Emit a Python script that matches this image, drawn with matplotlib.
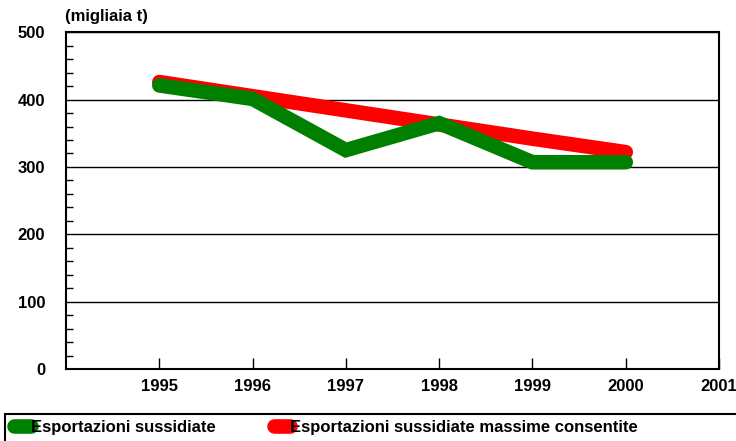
import matplotlib.pyplot as plt
from matplotlib.patches import Rectangle
from matplotlib.ticker import MultipleLocator

plt.rcParams['font.family'] = ['Liberation Sans', 'DejaVu Sans']
plt.rcParams['font.weight'] = 'bold'
plt.rcParams['font.size'] = 12

anni = [1995, 1996, 1997, 1998, 1999, 2000]
tick_anni = [1995, 1996, 1997, 1998, 1999, 2000, 2001]
sussidiate = [421, 401, 325, 365, 307, 307]
massime = [426, 405, 384, 363, 342, 322]

fig = plt.figure(figsize=(7.36, 4.41), dpi=100)
ax = fig.add_axes([0.0897, 0.163, 0.8873, 0.764])

ax.plot(anni, sussidiate, color='#008000', lw=10.5, solid_capstyle='round',
        solid_joinstyle='miter', label='Esportazioni sussidiate', zorder=4)
ax.plot(anni, massime, color='#ff0000', lw=10.5, solid_capstyle='round',
        label='Esportazioni sussidiate massime consentite', zorder=3)

ax.set_xlim(1994, 2001)
ax.set_ylim(0, 500)
ax.set_xticks(tick_anni)
ax.set_xticklabels([str(a) for a in tick_anni])
ax.yaxis.set_major_locator(MultipleLocator(100))
ax.yaxis.set_minor_locator(MultipleLocator(20))
ax.tick_params(axis='y', which='major', length=0, pad=15)
ax.tick_params(axis='y', which='minor', direction='in', length=5, width=1)
ax.tick_params(axis='x', direction='in', length=8, width=1, pad=7)
ax.grid(axis='y', which='major', color='black', lw=1)
for s in ax.spines.values():
    s.set_linewidth(1.5)

fig.text(0.088, 0.952, '(migliaia t)', fontsize=12, fontweight='bold')

fig.patches.append(Rectangle((0.007, -0.01), 1.01, 0.072, transform=fig.transFigure,
                             fill=False, edgecolor='black', lw=1.5))
fig.legend(loc='center left', bbox_to_anchor=(0.019, 0.03), ncol=2, frameon=False,
           handlelength=1.0, handletextpad=0.0, columnspacing=3.5, borderaxespad=0,
           borderpad=0)

fig.savefig('out.png', dpi=100)
